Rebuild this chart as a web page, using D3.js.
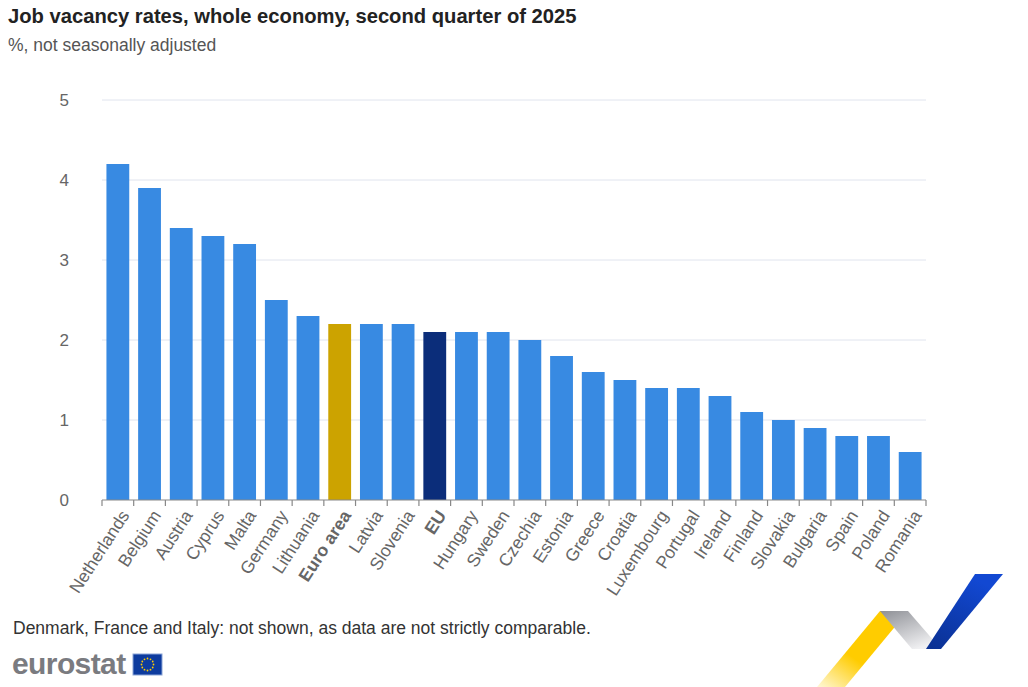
<!DOCTYPE html>
<html>
<head>
<meta charset="utf-8">
<script src="https://cdn.jsdelivr.net/npm/d3@7"></script>
<style>
  body { margin: 0; background: #fff; }
  svg { font-family: "Liberation Sans", Arial, sans-serif; }
</style>
</head>
<body>
<svg id="chart" width="1028" height="687"></svg>
<script>
const countries = ['Netherlands', 'Belgium', 'Austria', 'Cyprus', 'Malta', 'Germany', 'Lithuania', 'Euro area', 'Latvia', 'Slovenia',
    'EU', 'Hungary', 'Sweden', 'Czechia', 'Estonia', 'Greece', 'Croatia', 'Luxembourg', 'Portugal', 'Ireland',
    'Finland', 'Slovakia', 'Bulgaria', 'Spain', 'Poland', 'Romania'];
const rates = [4.2, 3.9, 3.4, 3.3, 3.2, 2.5, 2.3, 2.2, 2.2, 2.2,
    2.1, 2.1, 2.1, 2.0, 1.8, 1.6, 1.5, 1.4, 1.4, 1.3,
    1.1, 1.0, 0.9, 0.8, 0.8, 0.6];
const yTicks = [0, 1, 2, 3, 4, 5];

const colorFor = name => name === 'Euro area' ? '#cca300' : name === 'EU' ? '#0b2d7a' : '#388ae2';
const boldLabel = name => name === 'Euro area' || name === 'EU';

const svg = d3.select('#chart');
const margin = { left: 102, right: 102, top: 100, bottom: 187 };
const width = 1028 - margin.left - margin.right;
const height = 687 - margin.top - margin.bottom;

// titles
svg.append('text')
    .attr('x', 8).attr('y', 23)
    .attr('font-size', 20.2).attr('font-weight', 'bold')
    .attr('fill', '#222')
    .text('Job vacancy rates, whole economy, second quarter of 2025');
svg.append('text')
    .attr('x', 8).attr('y', 51)
    .attr('font-size', 17.5).attr('fill', '#555')
    .text('%, not seasonally adjusted');

const g = svg.append('g').attr('transform', `translate(${margin.left},${margin.top})`);

const x = d3.scaleBand().domain(countries).range([0, width]).paddingInner(0.28).paddingOuter(0.14);
const y = d3.scaleLinear().domain([0, 5]).range([height, 0]);

// grid
g.append('g')
    .selectAll('line')
    .data(yTicks.filter(d => d > 0))
    .enter()
    .append('line')
    .attr('x1', 0).attr('x2', width)
    .attr('y1', d => y(d)).attr('y2', d => y(d))
    .attr('stroke', '#e0e4ee').attr('stroke-width', 1);

// y labels
g.append('g')
    .selectAll('text')
    .data(yTicks)
    .enter()
    .append('text')
    .attr('x', -33).attr('y', d => y(d))
    .attr('dy', '0.35em')
    .attr('text-anchor', 'end')
    .attr('font-size', 17).attr('fill', '#666')
    .text(d => d);

// bars
g.append('g')
    .selectAll('rect')
    .data(countries)
    .enter()
    .append('rect')
    .attr('x', d => x(d))
    .attr('width', x.bandwidth())
    .attr('y', (d, i) => y(rates[i]))
    .attr('height', (d, i) => height - y(rates[i]))
    .attr('fill', d => colorFor(d));

// x axis: line + ticks at category boundaries
const axisG = g.append('g').attr('transform', `translate(0,${height})`);
axisG.append('line')
    .attr('x1', 0).attr('x2', width)
    .attr('stroke', '#888').attr('stroke-width', 1.2);
const edges = d3.range(countries.length + 1).map(i => i * (width / countries.length));
axisG.selectAll('line.tick')
    .data(edges)
    .enter()
    .append('line')
    .attr('class', 'tick')
    .attr('x1', d => d).attr('x2', d => d)
    .attr('y1', 0).attr('y2', 6)
    .attr('stroke', '#888').attr('stroke-width', 1.2);

axisG.selectAll('text')
    .data(countries)
    .enter()
    .append('text')
    .attr('transform', d => `translate(${x(d) + x.bandwidth() / 2 + 7},${12}) rotate(-57)`)
    .attr('text-anchor', 'end')
    .attr('dy', '0.35em')
    .attr('font-size', 17.5).attr('fill', '#666')
    .attr('font-weight', d => boldLabel(d) ? 'bold' : 'normal')
    .text(d => d);

// footnote
svg.append('text')
    .attr('x', 13).attr('y', 634)
    .attr('font-size', 17.5).attr('fill', '#333')
    .text('Denmark, France and Italy: not shown, as data are not strictly comparable.');

// eurostat logo
svg.append('text')
    .attr('x', 12).attr('y', 674)
    .attr('font-size', 30).attr('font-weight', 'bold')
    .attr('fill', '#7a7b80').attr('letter-spacing', -0.6)
    .text('eurostat');
svg.append('rect')
    .attr('x', 133).attr('y', 654).attr('width', 29).attr('height', 21)
    .attr('fill', '#0d3b9e').attr('stroke', '#8aa4d6');
const stars = d3.range(12).map(i => i * Math.PI / 6);
svg.append('g')
    .selectAll('circle')
    .data(stars)
    .enter()
    .append('circle')
    .attr('cx', a => 147.5 + 6 * Math.cos(a))
    .attr('cy', a => 664.5 + 6 * Math.sin(a))
    .attr('r', 0.9)
    .attr('fill', '#ffcc00');

// decorative ribbon
const defs = svg.append('defs');
const yGrad = defs.append('linearGradient').attr('id', 'yg').attr('x1', 0).attr('y1', 1).attr('x2', 0.6).attr('y2', 0.3);
yGrad.append('stop').attr('offset', 0).attr('stop-color', '#fff8d8');
yGrad.append('stop').attr('offset', 0.6).attr('stop-color', '#ffcc00');
const gGrad = defs.append('linearGradient').attr('id', 'gg').attr('x1', 0).attr('y1', 0).attr('x2', 0.6).attr('y2', 1);
gGrad.append('stop').attr('offset', 0).attr('stop-color', '#8e9096');
gGrad.append('stop').attr('offset', 1).attr('stop-color', '#f0f0f2');
const bGrad = defs.append('linearGradient').attr('id', 'bg').attr('x1', 0).attr('y1', 1).attr('x2', 0.5).attr('y2', 0);
bGrad.append('stop').attr('offset', 0).attr('stop-color', '#0a3091');
bGrad.append('stop').attr('offset', 1).attr('stop-color', '#1248d2');

svg.append('path').attr('d', 'M817,687 L880,611 L908,611 L845,687 Z').attr('fill', 'url(#yg)');
svg.append('path').attr('d', 'M880,611 L908,611 L941,649 L912,649 Z').attr('fill', 'url(#gg)');
svg.append('path').attr('d', 'M926,649 L975,574 L1003,574 L941,649 Z').attr('fill', 'url(#bg)');
</script>
</body>
</html>
